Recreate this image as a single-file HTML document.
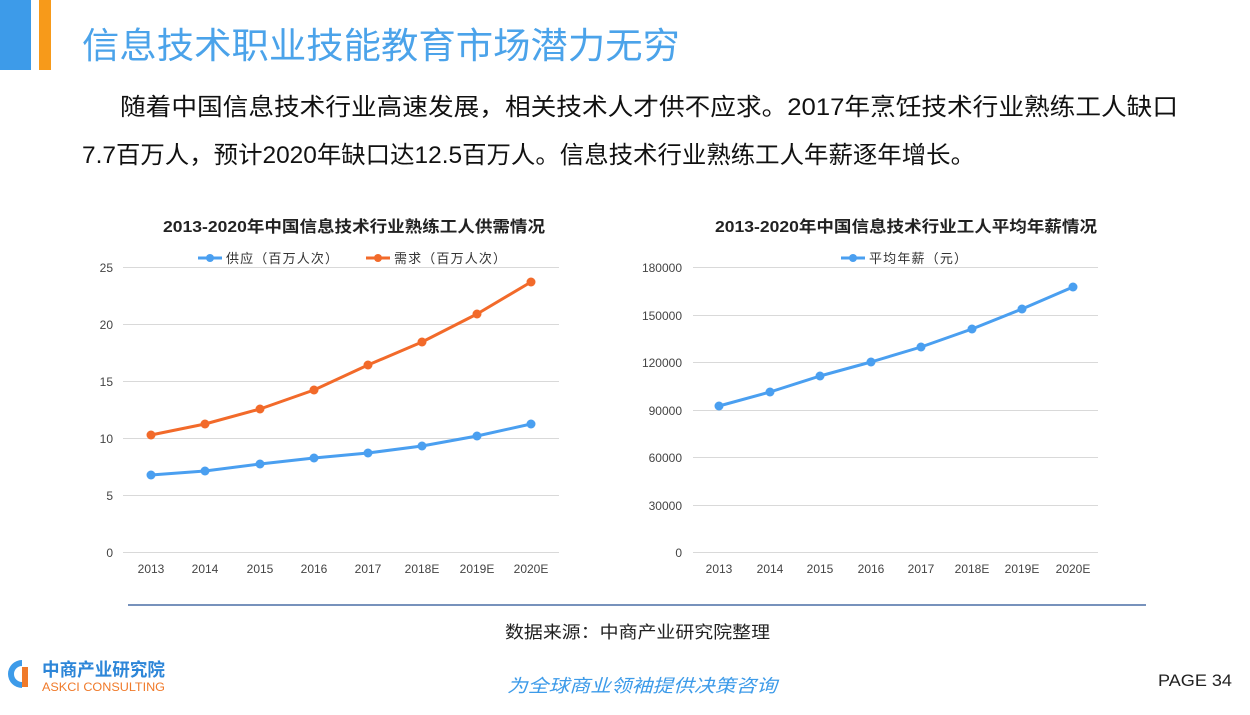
<!DOCTYPE html>
<html><head><meta charset="utf-8"><style>
body{margin:0;width:1250px;height:710px;background:#fff;overflow:hidden;font-family:"Liberation Sans","Noto Sans CJK SC",sans-serif;}
</style></head><body>
<svg width="1250" height="710" xmlns="http://www.w3.org/2000/svg" font-family="Liberation Sans, Noto Sans CJK SC, sans-serif">
<rect x="0" y="0" width="31" height="70" fill="#3d9be9"/>
<rect x="39" y="0" width="12" height="70" fill="#f79a1a"/>
<text x="82" y="58" font-size="36" fill="#4ba3ea" textLength="598" lengthAdjust="spacingAndGlyphs">信息技术职业技能教育市场潜力无穷</text>
<text x="120" y="115" font-size="24" fill="#111" textLength="1058" lengthAdjust="spacingAndGlyphs">随着中国信息技术行业高速发展，相关技术人才供不应求。2017年烹饪技术行业熟练工人缺口</text>
<text x="82" y="163" font-size="24" fill="#111" textLength="893" lengthAdjust="spacingAndGlyphs">7.7百万人，预计2020年缺口达12.5百万人。信息技术行业熟练工人年薪逐年增长。</text>

<!-- chart 1 -->
<text x="163" y="232" font-size="16" font-weight="bold" fill="#222" textLength="382" lengthAdjust="spacingAndGlyphs">2013-2020年中国信息技术行业熟练工人供需情况</text>
<line x1="198" y1="258" x2="222" y2="258" stroke="#4a9ff0" stroke-width="3"/><circle cx="210" cy="258" r="4" fill="#4a9ff0"/>
<text x="226" y="263" font-size="13" fill="#333" textLength="112">供应（百万人次）</text>
<line x1="366" y1="258" x2="390" y2="258" stroke="#f26a2a" stroke-width="3"/><circle cx="378" cy="258" r="4" fill="#f26a2a"/>
<text x="394" y="263" font-size="13" fill="#333" textLength="112">需求（百万人次）</text>
<g stroke="#d9d9d9" stroke-width="1">
<line x1="123" y1="267.5" x2="559" y2="267.5"/><line x1="123" y1="324.5" x2="559" y2="324.5"/><line x1="123" y1="381.5" x2="559" y2="381.5"/><line x1="123" y1="438.5" x2="559" y2="438.5"/><line x1="123" y1="495.5" x2="559" y2="495.5"/><line x1="123" y1="552.5" x2="559" y2="552.5"/>
</g>
<g font-size="12" fill="#444" text-anchor="end">
<text x="113" y="272">25</text><text x="113" y="329">20</text><text x="113" y="386">15</text><text x="113" y="443">10</text><text x="113" y="500">5</text><text x="113" y="557">0</text>
</g>
<g font-size="12" fill="#444" text-anchor="middle">
<text x="151" y="573">2013</text><text x="205" y="573">2014</text><text x="260" y="573">2015</text><text x="314" y="573">2016</text><text x="368" y="573">2017</text><text x="422" y="573">2018E</text><text x="477" y="573">2019E</text><text x="531" y="573">2020E</text>
</g>
<polyline fill="none" stroke="#f26a2a" stroke-width="3" stroke-linejoin="round" points="151,435 205,424 260,409 314,390 368,365 422,342 477,314 531,282"/>
<g fill="#f26a2a"><circle cx="151" cy="435" r="4.5"/><circle cx="205" cy="424" r="4.5"/><circle cx="260" cy="409" r="4.5"/><circle cx="314" cy="390" r="4.5"/><circle cx="368" cy="365" r="4.5"/><circle cx="422" cy="342" r="4.5"/><circle cx="477" cy="314" r="4.5"/><circle cx="531" cy="282" r="4.5"/></g>
<polyline fill="none" stroke="#4a9ff0" stroke-width="3" stroke-linejoin="round" points="151,475 205,471 260,464 314,458 368,453 422,446 477,436 531,424"/>
<g fill="#4a9ff0"><circle cx="151" cy="475" r="4.5"/><circle cx="205" cy="471" r="4.5"/><circle cx="260" cy="464" r="4.5"/><circle cx="314" cy="458" r="4.5"/><circle cx="368" cy="453" r="4.5"/><circle cx="422" cy="446" r="4.5"/><circle cx="477" cy="436" r="4.5"/><circle cx="531" cy="424" r="4.5"/></g>

<!-- chart 2 -->
<text x="715" y="232" font-size="16" font-weight="bold" fill="#222" textLength="382" lengthAdjust="spacingAndGlyphs">2013-2020年中国信息技术行业工人平均年薪情况</text>
<line x1="841" y1="258" x2="865" y2="258" stroke="#4a9ff0" stroke-width="3"/><circle cx="853" cy="258" r="4" fill="#4a9ff0"/>
<text x="869" y="263" font-size="13" fill="#333" textLength="98">平均年薪（元）</text>
<g stroke="#d9d9d9" stroke-width="1">
<line x1="693" y1="267.5" x2="1098" y2="267.5"/><line x1="693" y1="315.5" x2="1098" y2="315.5"/><line x1="693" y1="362.5" x2="1098" y2="362.5"/><line x1="693" y1="410.5" x2="1098" y2="410.5"/><line x1="693" y1="457.5" x2="1098" y2="457.5"/><line x1="693" y1="505.5" x2="1098" y2="505.5"/><line x1="693" y1="552.5" x2="1098" y2="552.5"/>
</g>
<g font-size="12" fill="#444" text-anchor="end">
<text x="682" y="272">180000</text><text x="682" y="320">150000</text><text x="682" y="367">120000</text><text x="682" y="415">90000</text><text x="682" y="462">60000</text><text x="682" y="510">30000</text><text x="682" y="557">0</text>
</g>
<g font-size="12" fill="#444" text-anchor="middle">
<text x="719" y="573">2013</text><text x="770" y="573">2014</text><text x="820" y="573">2015</text><text x="871" y="573">2016</text><text x="921" y="573">2017</text><text x="972" y="573">2018E</text><text x="1022" y="573">2019E</text><text x="1073" y="573">2020E</text>
</g>
<polyline fill="none" stroke="#4a9ff0" stroke-width="3" stroke-linejoin="round" points="719,406 770,392 820,376 871,362 921,347 972,329 1022,309 1073,287"/>
<g fill="#4a9ff0"><circle cx="719" cy="406" r="4.5"/><circle cx="770" cy="392" r="4.5"/><circle cx="820" cy="376" r="4.5"/><circle cx="871" cy="362" r="4.5"/><circle cx="921" cy="347" r="4.5"/><circle cx="972" cy="329" r="4.5"/><circle cx="1022" cy="309" r="4.5"/><circle cx="1073" cy="287" r="4.5"/></g>

<line x1="128" y1="605" x2="1146" y2="605" stroke="#4a6fa5" stroke-width="1.5"/>
<text x="505" y="638" font-size="17" fill="#222" textLength="265" lengthAdjust="spacingAndGlyphs">数据来源：中商产业研究院整理</text>
<path d="M22 660 A13 13 0 1 0 22 688 L22 682 A7 7 0 1 1 22 666 Z" fill="#3d9be9"/>
<rect x="22" y="667" width="6" height="20" fill="#f07a2a"/>
<text x="42" y="676" font-size="18" font-weight="bold" fill="#2d86d8" textLength="123" lengthAdjust="spacingAndGlyphs">中商产业研究院</text>
<text x="42" y="691" font-size="12" fill="#f07a2a" textLength="123" lengthAdjust="spacingAndGlyphs">ASKCI CONSULTING</text>
<text x="507" y="692" font-size="18" font-style="italic" fill="#3d9be9" textLength="270" lengthAdjust="spacingAndGlyphs">为全球商业领袖提供决策咨询</text>
<text x="1158" y="686" font-size="17" fill="#222" textLength="74" lengthAdjust="spacingAndGlyphs">PAGE 34</text>
</svg>
</body></html>
